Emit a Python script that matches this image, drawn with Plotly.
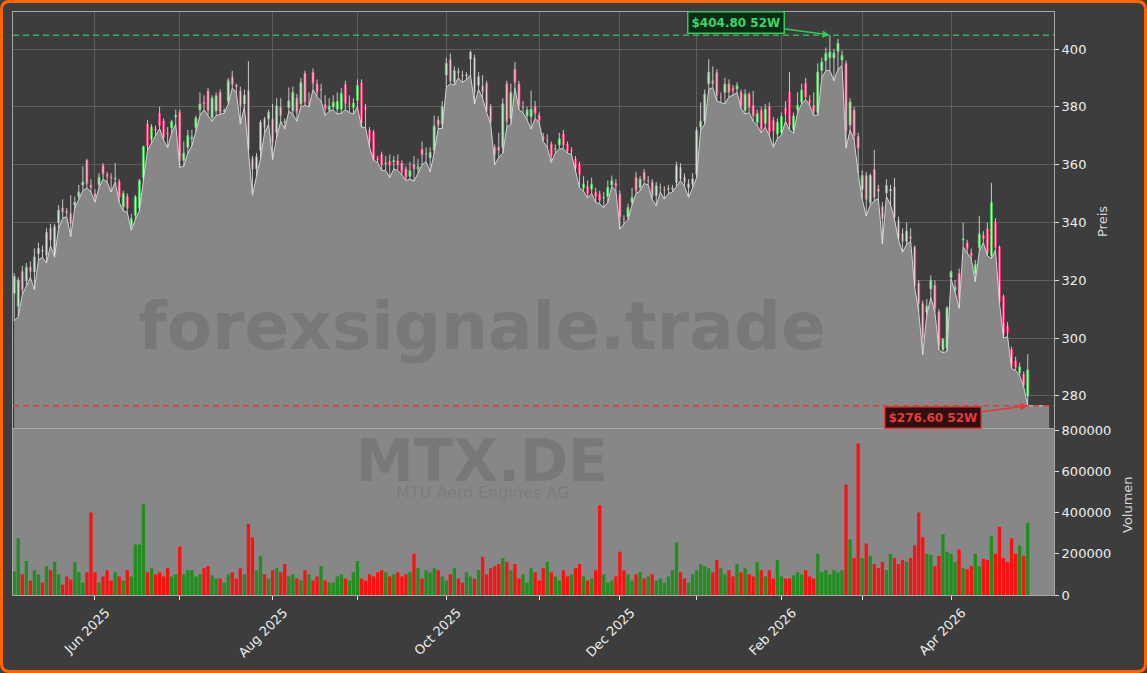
import plotly.graph_objects as go

# ---------------- data ----------------
open_ = [315.5,311,323,320,324.5,323,329.3,330.5,328.7,338,328.7,340,345,343.8,343,346,349,353,361.5,353,
350,353,359.7,356.5,355.7,355,354,345.4,349,339,342.5,345,355.5,374,368.9,372.3,377.7,375,370.8,372.7,
376.5,378,361.5,366,369,372.9,379,381.5,385.5,376.3,378.6,385,378.5,382,390.3,387.5,385.5,381,385.5,362,
358.6,365,375.8,375.8,375.7,371.1,379.8,375,379.8,378.6,383,381,391.6,381.5,391.9,387.9,386,380.7,379,380,
379.2,379.2,387.6,381,379.8,382.3,388.2,379.6,371.9,371.1,362,363.5,360.5,361,361,361.3,360.5,358.5,356,360,
358.5,365.3,363.8,362.4,365,375.4,374,391,396.3,388.7,392.2,391,390.8,396.5,396.9,387.5,387,388,380,365.9,
366,366,387.9,376,393,387.9,379.8,376.9,376.6,380,377,369.5,368.5,367.1,365.4,366.9,370.6,366.9,364.8,361.9,
359.9,351.9,352.4,351.6,350.4,349.8,348.6,349,353,353.5,349.8,341.2,342,347,355.6,352.1,357.3,354.4,353.9,349.3,
352.1,351.2,351.6,351.6,353.9,359,355.6,352.1,353.3,356.7,373,375.2,388,389,391.9,383.3,385,387.9,386.4,386.2,
385,378.7,384.4,380.4,374.6,378.7,374.3,380,375.2,370.6,371.1,379.4,385.1,372.2,379,381.7,388,382.3,380.5,378,
392.6,396,397,396.9,399.2,396.2,394.9,373.7,378.9,369.7,351.4,356.2,346.9,358.3,351.6,345.5,350.3,351,352.3,340.6,
336,333.5,335,331.4,319,312,309,317,318.3,309.1,296,296.6,321,316.7,322.3,334,332.9,329.4,322.3,331.4,
335.4,337.7,328.6,340.2,331.4,314.3,304,296,292,288,287.5,280]
close = [321.3,320,316.7,324.5,323,328,331,330,336.5,334,338.5,344.2,343.6,343.3,339.6,347,350.5,354,353.4,352,
348.5,355.7,356.8,356,355.5,355.2,348.8,350,345,341.3,348.8,354.5,366.2,366.6,372.9,372,373.5,369.7,370.6,374.8,
377,361.4,364,370,369.5,376.1,381,381,378.6,383,383.8,378,378.6,389,387.8,387,380.3,384,365.4,358.5,
362.6,374.6,373,378,367.6,380.3,377,374.6,382,385,378,388.4,381.5,381.5,388.1,385,386,379.5,380.2,381.5,
381.8,384.6,381.2,381,381.2,387.3,374.6,379.2,368.2,361.8,361.8,360,360.5,360,361.3,360,357.5,355.5,358,358.5,
359.3,363.4,363.8,364.2,373.4,373.6,380,395,389,392.5,391.8,390.8,391,398.8,385,390.4,385.3,378.6,375,363.6,
365,381,375,385,388.4,380.3,379.8,378.9,379.2,377.7,375.2,369,368.5,363.1,365.4,368.9,366.9,364.8,364.8,358.8,
356.7,353.3,350.1,353.2,349,347.8,348.6,352.1,354.4,352.7,341.8,341,345.2,348.7,351,355,354.7,354.4,349.3,352.7,
352.1,351.2,351.6,351.8,359.6,355,353.9,353.3,355,371.7,375,384.4,392,388,383.9,383.3,387.8,385,385.6,387.4,
380.4,384.4,379.8,376.9,377.7,372.3,379.2,371.2,371.7,374.6,376.6,377.5,373.7,376.8,380.5,385.7,383.4,381.5,378.5,392,
395.5,398.5,399,398.6,402,397.7,371.4,381.7,369.9,365.7,356.2,348,356.2,348.6,350.8,341.4,352.8,351.3,342,334.3,
333.5,337,334.5,318.3,312,300,311,320,310.3,297.1,299.6,310.5,322.9,317.6,313.7,334.3,330.9,328.6,325.4,336,
334.5,329.7,346.9,331.4,312.6,301.1,302,290.5,290,290,284,289]
high = [322.5,321,325,326,326.5,331,333,332,338,339.5,339.5,346,348,345,349.5,349,353,359.5,362,355,
351.5,357,360.5,357.5,357,360.5,355,351,350,343,349.5,355,366.5,375.5,374,373.5,380,376,373,375.5,
379,379,368,372,372,377,385,384,386.5,384,385,386,379.5,390,392.4,388,387,386,395.8,363,
364,375.5,376.5,379,381,383,383,376,386.7,387,384.5,390,392.5,385,393.3,389.5,388,384,383,384,
385,386.5,389,384,383,389.5,389.5,381,373,372,363,364.5,363,363.5,363,363.5,361.5,359.5,361,363,
362,368,366,366,377,376.8,382,397,398.5,394,393.5,392.5,392,399.5,398,392,391,389,381,367,
371,383,389,388,395.5,389,382,380,385.6,382,378,371,370.5,368,367,371,372,368,366,363,
361,356,354.5,355.5,352,351,350.5,354.5,356.2,355,351,342.5,346.5,352,357.5,356,358.5,356,355,354,
353.5,352.5,353,353,361,360.5,357,355,357,373,381.5,386,396.5,394,393,385,390,389.5,387.5,388.5,
386,386,385,385.5,379,380,381,381.5,376.5,376,378,382,392,378,385,388,390,384,385,395,
397,400.5,404.8,400,403.5,399.5,396,383,380,371,358,357.5,357,365.1,353,347,355,353,355.4,342,
338,340,338,332,320,313,313.5,321.7,320,310,300,311,323.4,320,324,340,334,331,327,342.3,
337,340,353.7,341.5,332,315,305.5,297,293.5,291.5,288.5,294.5]
low = [306,307.5,315,318,321,316.7,327,328,326,332,328,338,341.5,342,335,345,348,351,352,350.5,
347,352,355,354,350.5,354,347,344,343.5,337.3,341,344,354.5,365,367.5,370,372.5,368.5,365.8,371,
374,359,359.5,364,366.5,371.5,377,379,377,375,377,377.5,377.8,381,386.5,385,374,380,364.5,349.4,
356,362,371,374,361.8,369.5,375,372.3,378.5,377.5,375,380,380.5,380,386,383.5,382,377,378.5,379,
377.5,377.8,379,378,377.5,380,373,372.8,366,361.5,360.8,358,358,355.5,358.5,358,356.5,354.5,355,354.3,
357,360,361,357.5,364,372.5,372.5,386.7,388,387.5,390,388.4,389.5,391,381,386,383,378,374,360,
362.5,364,373,374,386.5,379,378,375.5,372.3,376,374.5,368,366,360.8,364,365.5,365.5,364,363.5,357.5,
352.1,350.8,348.5,350,347,346.4,345.2,347,352.5,351,337.7,339.5,341,346,350,351,353.5,353,348,345.8,
350.5,348.1,350,350.5,352.5,354.5,352.5,348.7,352,355.5,372,374,386,386.7,382,381.5,381,383.5,384,385,
379.5,377.5,378,375,373.5,371,373,370,366,369,370.3,375,372,370.9,378,381,382.5,380.5,377,377.1,
390,392.6,392.6,389,393,394.3,365.7,372,368.5,357,348,342.3,346,347.5,348.3,332.6,349,346.3,341,334,
329.7,332.5,333.5,317.5,309,294.3,308,314,309,296,294.9,295.5,320.5,316,310.3,331.5,329.5,327.5,319.5,330,
333,328.5,327.5,330.5,312,300,300.5,289.5,288.8,287,283,276.6]
volume = [115000,275000,100000,165000,70000,120000,100000,60000,140000,120000,
160000,100000,50000,90000,75000,160000,110000,60000,110000,400000,
110000,60000,90000,120000,70000,110000,90000,70000,120000,90000,
245000,245000,440000,110000,130000,100000,110000,90000,130000,90000,
100000,235000,100000,120000,120000,90000,100000,130000,140000,95000,
80000,80000,60000,100000,110000,80000,130000,100000,345000,280000,
120000,190000,100000,80000,120000,130000,110000,150000,90000,100000,
80000,70000,120000,100000,70000,90000,140000,70000,60000,60000,
90000,100000,80000,70000,110000,165000,80000,70000,100000,90000,
110000,120000,110000,90000,100000,110000,90000,100000,110000,200000,
130000,80000,120000,110000,130000,120000,90000,70000,100000,130000,
80000,60000,110000,90000,80000,120000,185000,100000,130000,140000,
150000,180000,160000,120000,150000,80000,100000,60000,130000,110000,
70000,130000,160000,110000,90000,70000,120000,90000,100000,130000,
150000,90000,70000,80000,120000,435000,100000,60000,70000,90000,
210000,120000,100000,70000,100000,110000,80000,90000,100000,70000,
80000,60000,90000,120000,255000,110000,80000,60000,100000,120000,
150000,140000,130000,110000,170000,130000,100000,120000,90000,150000,
110000,130000,100000,90000,160000,120000,90000,120000,80000,170000,
90000,80000,80000,95000,110000,100000,120000,90000,80000,200000,
110000,120000,100000,120000,110000,120000,535000,270000,180000,735000,
180000,250000,190000,150000,130000,160000,120000,200000,180000,150000,
170000,160000,180000,240000,400000,280000,200000,195000,140000,190000,
295000,210000,200000,160000,220000,130000,125000,140000,200000,140000,
175000,170000,285000,200000,330000,180000,160000,275000,200000,240000,
190000,350000]

# month-start positions (trading-day index) and their labels
month_idx = [20, 41, 64, 85, 107, 130, 150, 169, 190, 210, 232]
month_labels = ["Jun 2025", "", "Aug 2025", "", "Oct 2025", "", "Dec 2025", "",
                "Feb 2026", "", "Apr 2026"]

ticker = "MTX.DE"
company = "MTU Aero Engines AG"
site = "forexsignale.trade"

# ---------------- derived ----------------
N = min(len(open_), len(close), len(high), len(low), len(volume))
open_, close, high, low, volume = open_[:N], close[:N], high[:N], low[:N], volume[:N]
idx = list(range(N))
body_hi = [max(o, c) for o, c in zip(open_, close)]
body_lo = [min(o, c) for o, c in zip(open_, close)]
vol_colors = ["#1f8f1f" if c >= o else "#ff1010" for o, c in zip(open_, close)]
hi52 = max(high)
lo52 = min(low)
i_hi = high.index(hi52)
i_lo = low.index(lo52)

wick_x, wick_y = [], []
for i in idx:
    wick_x += [i, i, None]
    wick_y += [low[i], high[i], None]

BG = "#3d3d3d"
GREY = "#878787"
FONT = "DejaVu Sans"
W, H = 1147, 673
ML, MR, MT, MB = 13, 93, 12, 78
PW, PH = W - ML - MR, H - MT - MB
split = (PH - (428 - MT)) / PH   # boundary between price and volume panels


def px(xp):
    return (xp - ML) / PW


def py(yp):
    return (H - MB - yp) / PH


fig = go.Figure()

# grey area under the lows (extends a little past the last candle)
fig.add_trace(go.Scatter(
    x=idx + [N - 1 + 5.3], y=low + [low[-1]],
    mode="lines", fill="tozeroy", fillcolor=GREY,
    line=dict(color="#d2d2d2", width=1), hoverinfo="skip",
    xaxis="x", yaxis="y"))

# wicks
fig.add_trace(go.Scatter(
    x=wick_x, y=wick_y, mode="lines",
    line=dict(color="rgba(222,222,222,0.85)", width=1),
    hoverinfo="skip", xaxis="x", yaxis="y"))

# candle bodies
fig.add_trace(go.Candlestick(
    x=idx, open=open_, high=body_hi, low=body_lo, close=close,
    increasing=dict(line=dict(color="#3fc24f", width=1), fillcolor="#c4f2c8"),
    decreasing=dict(line=dict(color="#e8336b", width=1), fillcolor="#f7b6c6"),
    whiskerwidth=0, hoverinfo="skip", xaxis="x", yaxis="y"))

# volume
fig.add_trace(go.Bar(
    x=idx, y=volume, marker=dict(color=vol_colors, line=dict(width=0)),
    width=0.82, hoverinfo="skip", xaxis="x2", yaxis="y2"))

xr = [-0.3, 257.5]
axis_line = "#a8a8a8"
grid = "#5e5e5e"
tickfont = dict(family=FONT, size=13, color="#eeeeee")

# rounded orange frame around the whole figure
r = 8
x0, x1, y0, y1 = 1.5, W - 1.5, 1.5, H - 1.5
path = (f"M {px(x0 + r)},{py(y0)} L {px(x1 - r)},{py(y0)} Q {px(x1)},{py(y0)} {px(x1)},{py(y0 + r)} "
        f"L {px(x1)},{py(y1 - r)} Q {px(x1)},{py(y1)} {px(x1 - r)},{py(y1)} "
        f"L {px(x0 + r)},{py(y1)} Q {px(x0)},{py(y1)} {px(x0)},{py(y1 - r)} "
        f"L {px(x0)},{py(y0 + r)} Q {px(x0)},{py(y0)} {px(x0 + r)},{py(y0)} Z")

shapes = [
    dict(type="rect", xref="x2 domain", yref="y2 domain", x0=0, x1=1, y0=0, y1=1,
         fillcolor=GREY, line=dict(width=0), layer="below"),
    dict(type="line", xref="x domain", yref="y", x0=0, x1=1, y0=hi52, y1=hi52,
         line=dict(color="rgba(60,180,100,0.95)", width=1.5, dash="6px,4px")),
    dict(type="line", xref="x domain", yref="y", x0=0, x1=1, y0=lo52, y1=lo52,
         line=dict(color="rgba(225,55,55,0.95)", width=1.5, dash="6px,4px")),
    dict(type="path", xref="paper", yref="paper", path=path,
         line=dict(color="#ff6400", width=3), fillcolor="rgba(0,0,0,0)"),
]

wm = dict(xref="paper", yref="paper", xanchor="center", yanchor="middle", showarrow=False)
annotations = [
    dict(x=px(482), y=py(326), text=f"<b>{site}</b>",
         font=dict(family=FONT, size=66, color="rgba(40,40,40,0.15)"), **wm),
    dict(x=px(482), y=py(461), text=f"<b>{ticker}</b>",
         font=dict(family=FONT, size=58, color="rgba(40,40,40,0.15)"), **wm),
    dict(x=px(482), y=py(492), text=company,
         font=dict(family=FONT, size=16, color="rgba(40,40,40,0.15)"), **wm),
    dict(x=i_hi, y=hi52, xref="x", yref="y", text=f"<b>${hi52:.2f} 52W</b>",
         showarrow=True, arrowhead=2, arrowsize=1, arrowwidth=1.5, arrowcolor="#2ecc55",
         ax=-94, ay=-13, font=dict(family=FONT, size=12, color="#36d865"),
         bgcolor="#0c2a14", bordercolor="#2ecc55", borderwidth=1.5, borderpad=3),
    dict(x=i_lo, y=lo52, xref="x", yref="y", text=f"<b>${lo52:.2f} 52W</b>",
         showarrow=True, arrowhead=2, arrowsize=1, arrowwidth=1.5, arrowcolor="#e23a3a",
         ax=-95, ay=12, font=dict(family=FONT, size=12, color="#e83a3a"),
         bgcolor="#2e1010", bordercolor="#e23a3a", borderwidth=1.5, borderpad=3),
    dict(x=px(1103), y=py(222), text="Preis", textangle=-90,
         font=dict(family=FONT, size=13, color="#d6d6d6"), **wm),
    dict(x=px(1127), y=py(505), text="Volumen", textangle=-90,
         font=dict(family=FONT, size=13, color="#d6d6d6"), **wm),
]

fig.update_layout(
    width=W, height=H,
    margin=dict(l=ML, r=MR, t=MT, b=MB, pad=0),
    paper_bgcolor=BG, plot_bgcolor=BG,
    showlegend=False, hovermode=False,
    font=dict(family=FONT, size=13, color="#eeeeee"),
    shapes=shapes, annotations=annotations,
    xaxis=dict(domain=[0, 1], anchor="y", range=xr, tickvals=month_idx,
               showticklabels=False, ticks="", showgrid=True, gridcolor=grid, gridwidth=1,
               showline=True, linecolor=axis_line, linewidth=1, mirror=True,
               zeroline=False, rangeslider=dict(visible=False), matches="x2",
               automargin=False),
    yaxis=dict(domain=[split, 1], anchor="x", range=[268.9, 412.8], side="right",
               tickvals=[280, 300, 320, 340, 360, 380, 400], ticks="outside", ticklen=4,
               tickcolor="#dddddd", tickfont=tickfont, showgrid=True, gridcolor=grid,
               showline=True, linecolor=axis_line, linewidth=1, mirror=True,
               zeroline=False, automargin=False),
    xaxis2=dict(domain=[0, 1], anchor="y2", range=xr, tickvals=month_idx,
                ticktext=month_labels, tickangle=-45, ticks="outside", ticklen=4,
                tickcolor="#dddddd", tickfont=tickfont, showgrid=False,
                ticklabelshift=11,
                showline=True, linecolor=axis_line, linewidth=1, mirror=False,
                zeroline=False, automargin=False),
    yaxis2=dict(domain=[0, split], anchor="x2", range=[0, 810000], side="right",
                tickvals=[0, 200000, 400000, 600000, 800000], tickformat="d",
                ticks="outside", ticklen=4, tickcolor="#dddddd", tickfont=tickfont,
                showgrid=False, showline=True, linecolor=axis_line, linewidth=1,
                mirror=True, zeroline=False, automargin=False),
)

fig.write_html("out.html", config={"displayModeBar": False},
               post_script="document.body.style.margin='0px';document.body.style.overflow='hidden';")
